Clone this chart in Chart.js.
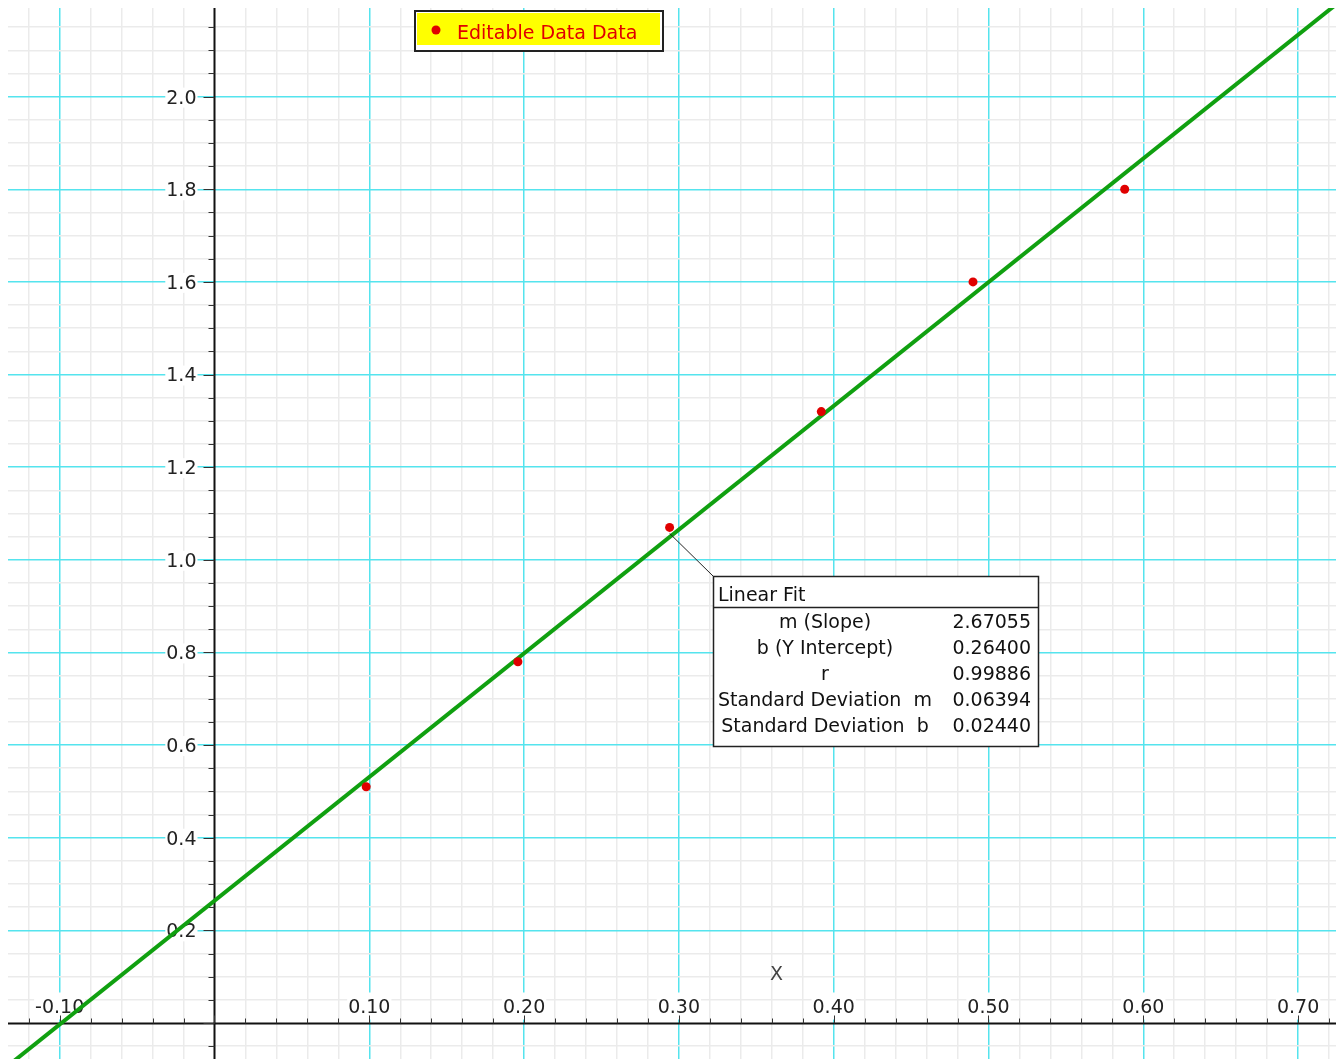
<!DOCTYPE html>
<html>
<head>
<meta charset="utf-8">
<title>Linear Fit</title>
<script src="https://cdn.jsdelivr.net/npm/chart.js@4.4.1/dist/chart.umd.min.js"></script>
<style>
  html, body { margin: 0; padding: 0; background: #fff; }
  canvas { display: block; }
</style>
</head>
<body>
<canvas id="graph" width="1343" height="1059"></canvas>
<script>
// measured data
const xValues = [0.098, 0.196, 0.294, 0.392, 0.490, 0.588];
const yValues = [0.51, 0.78, 1.07, 1.32, 1.60, 1.80];
const seriesName = 'Editable Data Data';

// linear fit results shown in the box
const fitSlope = 2.67055;
const fitIntercept = 0.26400;
const fitLabels = ['m (Slope)', 'b (Y Intercept)', 'r', 'Standard Deviation  m', 'Standard Deviation  b'];
const fitValues = ['2.67055', '0.26400', '0.99886', '0.06394', '0.02440'];

// axes
const xTickLabels = ['-0.10', '0.10', '0.20', '0.30', '0.40', '0.50', '0.60', '0.70'];
const yTickLabels = ['0.2', '0.4', '0.6', '0.8', '1.0', '1.2', '1.4', '1.6', '1.8', '2.0'];
const xTitle = 'X';
const xMin = -0.1334, xMax = 0.7245;
const yMin = -0.0777, yMax = 2.1913;

const FONT = '19px "DejaVu Sans", sans-serif';
const CYAN = '#55e4ee';
const MINOR = '#ebebeb';

function isMultiple(v, step) {
    const q = v / step;
    return Math.abs(q - Math.round(q)) < 1e-6;
}

function gridColor(value, major) {
    if (Math.abs(value) < 1e-9) return 'rgba(0,0,0,0)'; // the black axis goes here
    return isMultiple(value, major) ? CYAN : MINOR;
}

// black axes through the origin, tick marks and labels
const axesPlugin = {
    id: 'originAxes',
    beforeDatasetsDraw(chart) {
        const { ctx, chartArea, scales: { x, y } } = chart;
        const x0 = Math.round(x.getPixelForValue(0)) + 0.5;
        const y0 = Math.round(y.getPixelForValue(0)) + 0.5;
        ctx.save();

        ctx.font = FONT;
        // y labels
        ctx.textAlign = 'right';
        ctx.textBaseline = 'middle';
        yTickLabels.forEach(lbl => {
            const py = y.getPixelForValue(parseFloat(lbl));
            const w = ctx.measureText(lbl).width;
            ctx.fillStyle = '#fff';
            ctx.fillRect(x0 - 19 - w, py - 9, w + 2, 20);
            ctx.fillStyle = '#222';
            ctx.fillText(lbl, x0 - 18, py + 2);
        });
        // x labels
        ctx.textAlign = 'center';
        xTickLabels.forEach(lbl => {
            const px = x.getPixelForValue(parseFloat(lbl));
            const w = ctx.measureText(lbl).width;
            ctx.fillStyle = '#fff';
            ctx.fillRect(px - w / 2 - 1, y0 - 31, w + 2, 27);
            ctx.fillStyle = '#222';
            ctx.fillText(lbl, px, y0 - 15);
        });
        // axis title
        ctx.fillStyle = '#444';
        ctx.fillText(xTitle, x.getPixelForValue(0.363), y.getPixelForValue(0.104));

        // axis lines
        ctx.strokeStyle = '#111';
        ctx.lineWidth = 2;
        ctx.beginPath();
        ctx.moveTo(chartArea.left, y0);
        ctx.lineTo(chartArea.right, y0);
        ctx.moveTo(x0, chartArea.top);
        ctx.lineTo(x0, chartArea.bottom);
        ctx.stroke();

        // tick marks
        ctx.strokeStyle = '#333';
        ctx.lineWidth = 1;
        ctx.beginPath();
        y.ticks.forEach(t => {
            const py = Math.round(y.getPixelForValue(t.value)) + 0.5;
            const len = isMultiple(t.value, 0.2) ? 11 : 6;
            ctx.moveTo(x0 - len, py);
            ctx.lineTo(x0, py);
        });
        x.ticks.forEach(t => {
            const px = Math.round(x.getPixelForValue(t.value)) + 0.5;
            const len = isMultiple(t.value, 0.1) ? 8 : 5;
            ctx.moveTo(px, y0 - len);
            ctx.lineTo(px, y0);
        });
        ctx.stroke();
        ctx.restore();
    },
    afterDatasetsDraw(chart) {
        const { ctx, scales: { x, y } } = chart;
        ctx.save();
        ctx.font = FONT;

        // legend box
        ctx.fillStyle = '#fff';
        ctx.fillRect(415, 11, 248, 40);
        ctx.strokeStyle = '#222';
        ctx.lineWidth = 2;
        ctx.strokeRect(415, 11, 248, 40);
        ctx.fillStyle = '#ffff00';
        ctx.fillRect(417, 13, 243, 32);
        ctx.fillStyle = '#e00000';
        ctx.beginPath();
        ctx.arc(436, 30, 4.5, 0, Math.PI * 2);
        ctx.fill();
        ctx.textAlign = 'left';
        ctx.textBaseline = 'alphabetic';
        ctx.fillText(seriesName, 457, 39);

        // leader line from the 3rd point to the fit box
        const px = x.getPixelForValue(xValues[2]);
        const py = y.getPixelForValue(yValues[2]);
        ctx.strokeStyle = '#222';
        ctx.lineWidth = 1;
        ctx.beginPath();
        ctx.moveTo(px, py + 6);
        ctx.lineTo(713, 576);
        ctx.stroke();

        // fit box
        const bx = 713.5, by = 576.5, bw = 325, bh = 170;
        ctx.fillStyle = '#fff';
        ctx.fillRect(bx, by, bw, bh);
        ctx.strokeStyle = '#222';
        ctx.lineWidth = 1.5;
        ctx.strokeRect(bx, by, bw, bh);
        ctx.beginPath();
        ctx.moveTo(bx, 607.5);
        ctx.lineTo(bx + bw, 607.5);
        ctx.stroke();
        ctx.fillStyle = '#111';
        ctx.fillText('Linear Fit', 718, 601);
        fitLabels.forEach((lbl, i) => {
            const base = 628 + i * 25.9;
            ctx.textAlign = 'center';
            ctx.fillText(lbl, 825, base);
            ctx.textAlign = 'right';
            ctx.fillText(fitValues[i], 1031, base);
        });
        ctx.restore();
    }
};

const ctx = document.getElementById('graph').getContext('2d');
const graph = new Chart(ctx, {
    type: 'scatter',
    data: {
        datasets: [{
            label: seriesName,
            data: xValues.map((v, i) => ({ x: v, y: yValues[i] })),
            backgroundColor: '#e00000',
            borderWidth: 0,
            pointRadius: 4.5
        }, {
            type: 'line',
            label: 'Linear Fit',
            data: [
                { x: xMin, y: fitSlope * xMin + fitIntercept },
                { x: xMax, y: fitSlope * xMax + fitIntercept }
            ],
            borderColor: '#10a010',
            borderWidth: 4,
            pointRadius: 0,
            fill: false
        }]
    },
    options: {
        responsive: false,
        animation: false,
        events: [],
        layout: { autoPadding: false, padding: { left: 8, top: 8, right: 7, bottom: 0 } },
        plugins: {
            legend: { display: false },
            tooltip: { enabled: false }
        },
        scales: {
            x: {
                type: 'linear',
                min: xMin,
                max: xMax,
                border: { display: false },
                afterFit: s => { s.height = 0; },
                ticks: { display: false, stepSize: 0.02, autoSkip: false, includeBounds: false },
                grid: {
                    drawTicks: false,
                    color: c => gridColor(c.tick.value, 0.1),
                    lineWidth: 1.5
                }
            },
            y: {
                type: 'linear',
                min: yMin,
                max: yMax,
                border: { display: false },
                afterFit: s => { s.width = 0; },
                ticks: { display: false, stepSize: 0.05, autoSkip: false, includeBounds: false },
                grid: {
                    drawTicks: false,
                    color: c => gridColor(c.tick.value, 0.2),
                    lineWidth: 1.5
                }
            }
        }
    },
    plugins: [axesPlugin]
});
</script>
</body>
</html>
